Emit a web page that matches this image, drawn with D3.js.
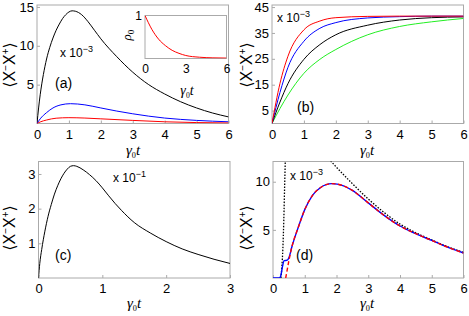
<!DOCTYPE html>
<html>
<head>
<meta charset="utf-8">
<script src="https://cdn.jsdelivr.net/npm/d3@7"></script>
<style>
body { margin: 0; background: #fff; }
svg { display: block; }
text { font-family: "Liberation Sans", Arial, sans-serif; }
</style>
</head>
<body>
<script>
// panel (a)
var aT = [0, 0.05, 0.1, 0.15, 0.2, 0.3, 0.4, 0.5, 0.6, 0.7, 0.8, 0.9, 1.0, 1.1, 1.2, 1.4, 1.6, 1.8, 2, 2.5, 3, 3.5, 4, 4.5, 5, 5.5, 6];
var aBlack = [0, 2.0, 3.7, 5.1, 6.3, 8.3, 9.8, 11.0, 12.0, 12.8, 13.5, 14.0, 14.35, 14.5, 14.45, 14.0, 13.1, 12.0, 10.9, 8.6, 6.6, 5.0, 3.8, 2.8, 2.0, 1.35, 0.85];
var aBlueT = [0, 0.1, 0.3, 0.5, 0.75, 1.05, 1.5, 2, 2.5, 3, 4, 5, 6];
var aBlue = [0, 0.6, 1.4, 2.0, 2.4, 2.55, 2.4, 2.0, 1.6, 1.25, 0.7, 0.4, 0.22];
var aRedT = [0, 0.1, 0.3, 0.6, 1, 1.5, 2, 3, 4, 5, 6];
var aRed = [0, 0.2, 0.45, 0.68, 0.75, 0.7, 0.6, 0.4, 0.22, 0.12, 0.07];
// inset
var insT = [0, 0.5, 1, 1.5, 2, 2.5, 3, 4, 5, 6];
var insRho = [1, 0.68, 0.45, 0.3, 0.19, 0.12, 0.07, 0.03, 0.015, 0.01];
// panel (b)
var bT = [0, 0.25, 0.5, 1, 1.5, 2, 3, 4, 5, 6];
var bRed = [0, 15.5, 26, 36.2, 39.6, 40.9, 41.4, 41.5, 41.5, 41.5];
var bBlue = [0, 12, 21.7, 31.8, 36.8, 39, 40.8, 41.3, 41.5, 41.5];
var bBlack = [0, 8.3, 15.4, 24.8, 30.5, 34.3, 38, 40, 40.9, 41.2];
var bGreen = [0, 5.8, 11, 19.4, 24.8, 28.6, 34.3, 37.5, 39.3, 40.6];
// panel (c)
var cT = [0, 0.02, 0.05, 0.1, 0.15, 0.2, 0.25, 0.3, 0.35, 0.4, 0.45, 0.5, 0.55, 0.6, 0.7, 0.8, 0.9, 1.0, 1.1, 1.2, 1.3, 1.5, 1.75, 2.0, 2.25, 2.5, 2.75, 3.0];
var cVal = [0, 0.42, 0.82, 1.35, 1.78, 2.12, 2.42, 2.66, 2.86, 3.02, 3.14, 3.22, 3.24, 3.22, 3.12, 2.98, 2.81, 2.6, 2.37, 2.15, 1.95, 1.6, 1.3, 1.05, 0.84, 0.68, 0.54, 0.42];
// panel (d)
var dBlueT = [0, 0.2, 0.25, 0.3, 0.35, 0.45, 0.5, 0.6, 0.8, 1, 1.25, 1.5, 1.85, 2.2, 2.5, 3, 3.5, 4, 4.5, 5, 5.5, 6];
var dBlue = [0, 0, 0.3, 1.2, 1.8, 1.85, 2.1, 3.3, 5.3, 7.1, 8.6, 9.4, 9.8, 9.6, 9.1, 7.8, 6.5, 5.4, 4.6, 3.9, 3.2, 2.6];
var dRedT = [0.4, 0.45, 0.5, 0.6, 0.8, 1, 1.25, 1.5, 1.85, 2.2, 2.5, 3, 3.5, 4, 4.5, 5, 5.5, 6];
var dRed = [0, 0.9, 1.8, 3.3, 5.3, 7.1, 8.6, 9.4, 9.8, 9.6, 9.1, 7.8, 6.5, 5.4, 4.6, 3.9, 3.2, 2.6];
var dRiseT = [0.25, 0.28, 0.31, 0.34, 0.37, 0.39];
var dRise = [0, 1.2, 3, 6, 10, 12.5];
var dDecayT = [1.75, 2, 2.5, 3, 3.5, 4, 4.5, 5, 5.5, 6];
var dDecay = [12.4, 11.5, 9.8, 8.2, 6.8, 5.6, 4.7, 3.95, 3.25, 2.65];

var svg = d3.select('body').append('svg').attr('width', 469).attr('height', 316);
var frameColor = '#aaa';

var zip = function(ts, vs){ return ts.map(function(t, i){ return [t, vs[i]]; }); };

var yLabel = function(g, x, y){
    var t = g.append('text').attr('transform', 'translate(' + x + ',' + y + ') rotate(-90)')
        .attr('text-anchor', 'middle').style('font-size', '16px');
    t.append('tspan').style('font-family', 'DejaVu Sans').text('\u27E8');
    t.append('tspan').text('X');
    t.append('tspan').attr('dy', -6).style('font-size', '10px').text('\u2212');
    t.append('tspan').attr('dy', 6).text('X');
    t.append('tspan').attr('dy', -6).style('font-size', '10px').text('+');
    t.append('tspan').attr('dy', 6).style('font-family', 'DejaVu Sans').text('\u27E9');
};

var xLabel = function(g, x, y, size){
    size = size || 15;
    var t = g.append('text').attr('x', x).attr('y', y).attr('text-anchor', 'middle')
        .style('font-family', '"Liberation Serif", serif').style('font-style', 'italic').style('font-size', size + 'px');
    t.append('tspan').text('\u03B3');
    t.append('tspan').attr('dy', 3).style('font-size', (size * 0.55) + 'px').style('font-style', 'normal').text('0');
    t.append('tspan').attr('dy', -3).text('t');
};

var scaleNote = function(g, x, y, exp){
    var t = g.append('text').attr('x', x).attr('y', y).style('font-size', '12px');
    t.append('tspan').text('x 10');
    t.append('tspan').attr('dy', -5).style('font-size', '9px').text(exp);
};

var panel = function(opt){
    var x = d3.scaleLinear().domain(opt.xd).range([opt.l, opt.r]);
    var y = d3.scaleLinear().domain(opt.yd).range([opt.b, opt.t]);
    var g = svg.append('g');
    var id = 'clip' + opt.name;
    svg.append('clipPath').attr('id', id).append('rect')
        .attr('x', opt.l).attr('y', opt.t).attr('width', opt.r - opt.l).attr('height', opt.b - opt.t);

    var xa = g.append('g').attr('transform', 'translate(0,' + opt.b + ')')
        .call(d3.axisBottom(x).tickValues(opt.xt).tickSize(-3).tickPadding(6).tickFormat(d3.format('d')));
    var ya = g.append('g').attr('transform', 'translate(' + opt.l + ',0)')
        .call(d3.axisLeft(y).tickValues(opt.yt).tickSize(-3).tickPadding(3).tickFormat(d3.format('d')));
    [xa, ya].forEach(function(a){
        a.select('.domain').remove();
        a.selectAll('line').attr('stroke', frameColor);
        a.selectAll('text').style('font-size', opt.fs || '13px').attr('fill', '#000').style('font-family', '"Liberation Sans", Arial, sans-serif');
    });
    g.append('rect').attr('x', opt.l).attr('y', opt.t).attr('width', opt.r - opt.l).attr('height', opt.b - opt.t)
        .attr('fill', 'none').attr('stroke', frameColor).attr('stroke-width', 1);

    var line = d3.line().x(function(d){ return x(d[0]); }).y(function(d){ return y(d[1]); }).curve(d3.curveMonotoneX);
    opt.series.forEach(function(s){
        g.append('path').datum(s.data).attr('d', line).attr('fill', 'none')
            .attr('stroke', s.color).attr('stroke-width', s.w || 1)
            .attr('stroke-dasharray', s.dash || null)
            .attr('clip-path', 'url(#' + id + ')');
    });
    return g;
};

// (a)
panel({name: 'a', l: 37, r: 228.5, t: 5, b: 123.5, xd: [0, 6], yd: [0, 15.25], xt: [0, 1, 2, 3, 4, 5, 6], yt: [5, 10, 15],
    series: [
        {data: zip(aT, aBlack), color: '#000'},
        {data: zip(aBlueT, aBlue), color: '#00f'},
        {data: zip(aRedT, aRed), color: '#f00'}
    ]});
yLabel(svg, 15, 65);
xLabel(svg, 133, 155);
scaleNote(svg, 60, 57, '\u22123');
svg.append('text').attr('x', 55).attr('y', 88).style('font-size', '14px').text('(a)');

// inset
var gi = panel({name: 'i', l: 145, r: 226.5, t: 15.5, b: 58.5, xd: [0, 6], yd: [0, 1], xt: [0, 3, 6], yt: [1], fs: '12px',
    series: [{data: zip(insT, insRho), color: '#f00'}]});
gi.selectAll('.tick line').remove();
var rl = svg.append('text').attr('transform', 'translate(131,35) rotate(-90)').attr('text-anchor', 'middle')
    .style('font-family', '"Liberation Serif", serif').style('font-style', 'italic').style('font-size', '13px');
rl.append('tspan').text('\u03C1');
rl.append('tspan').attr('dy', 3).style('font-size', '9px').style('font-style', 'normal').text('0');
xLabel(svg, 187, 95, 14);

// (b)
panel({name: 'b', l: 272, r: 463.5, t: 5, b: 123.5, xd: [0, 6], yd: [0, 45.8], xt: [0, 1, 2, 3, 4, 5, 6], yt: [5, 15, 25, 35, 45],
    series: [
        {data: zip(bT, bGreen), color: '#2e2'},
        {data: zip(bT, bBlack), color: '#000'},
        {data: zip(bT, bBlue), color: '#00f'},
        {data: zip(bT, bRed), color: '#f00'}
    ]});
yLabel(svg, 252, 65);
xLabel(svg, 367, 155);
scaleNote(svg, 277, 22, '\u22123');
svg.append('text').attr('x', 297).attr('y', 112).style('font-size', '14px').text('(b)');

// (c)
panel({name: 'c', l: 38.5, r: 230, t: 161.5, b: 278, xd: [0, 3], yd: [0, 3.36], xt: [0, 1, 2, 3], yt: [1, 2, 3],
    series: [{data: zip(cT, cVal), color: '#000'}]});
yLabel(svg, 15, 228);
xLabel(svg, 134, 308);
scaleNote(svg, 113, 182, '\u22121');
svg.append('text').attr('x', 55).attr('y', 260).style('font-size', '14px').text('(c)');

// (d)
panel({name: 'd', l: 273, r: 463.5, t: 161.5, b: 278, xd: [0, 6], yd: [0, 12.1], xt: [0, 1, 2, 3, 4, 5, 6], yt: [5, 10],
    series: [
        {data: zip(dRiseT, dRise), color: '#000', dash: '1.5,1.5', w: 1.3},
        {data: zip(dDecayT, dDecay), color: '#000', dash: '1.5,1.5', w: 1.3},
        {data: zip(dBlueT, dBlue), color: '#00f', w: 1.4},
        {data: zip(dRedT, dRed), color: '#f00', dash: '4,2.5', w: 1.4}
    ]});
yLabel(svg, 252, 228);
xLabel(svg, 367, 308);
scaleNote(svg, 290, 180, '\u22123');
svg.append('text').attr('x', 296).attr('y', 260).style('font-size', '14px').text('(d)');
</script>
</body>
</html>
